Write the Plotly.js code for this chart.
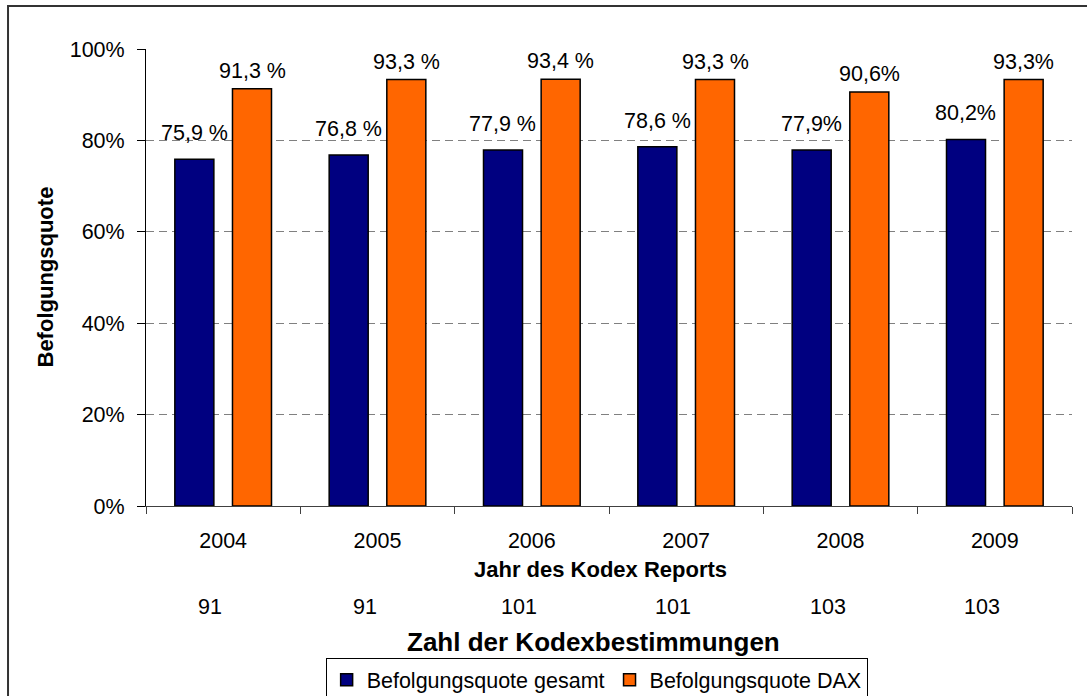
<!DOCTYPE html>
<html>
<head>
<meta charset="utf-8">
<script src="https://cdn.plot.ly/plotly-3.0.1.min.js"></script>
<style>html,body{margin:0;padding:0;background:#fff;}#chart{width:1087px;height:696px;}</style>
</head>
<body>
<div id="chart"></div>
<script>
const years = ['2004', '2005', '2006', '2007', '2008', '2009'];
const quoteGesamt = [0.759, 0.768, 0.779, 0.786, 0.779, 0.802];
const quoteDax = [0.913, 0.933, 0.934, 0.933, 0.906, 0.933];
const labelsGesamt = ['75,9 %', '76,8 %', '77,9 %', '78,6 %', '77,9%', '80,2%'];
const labelsDax = ['91,3 %', '93,3 %', '93,4 %', '93,3 %', '90,6%', '93,3%'];
const kodexZahl = ['91', '91', '101', '101', '103', '103'];
const yTicks = [0, 0.2, 0.4, 0.6, 0.8, 1.0];

const FONT = 'Liberation Sans, Arial, sans-serif';

const traces = [
  {
    type: 'bar', name: 'Befolgungsquote gesamt', x: years, y: quoteGesamt,
    marker: {color: '#000080', line: {color: '#000000', width: 1.5}},
    hoverinfo: 'skip'
  },
  {
    type: 'bar', name: 'Befolgungsquote DAX', x: years, y: quoteDax,
    marker: {color: '#FF6600', line: {color: '#000000', width: 1.5}},
    hoverinfo: 'skip'
  }
];

const annotations = [];
years.forEach((yr, i) => {
  annotations.push({x: i, y: quoteGesamt[i], xref: 'x', yref: 'y', text: labelsGesamt[i],
    showarrow: false, xanchor: 'center', yanchor: 'bottom', xshift: -29, yshift: 12,
    font: {family: FONT, size: 21.5, color: '#000'}});
  annotations.push({x: i, y: quoteDax[i], xref: 'x', yref: 'y', text: labelsDax[i],
    showarrow: false, xanchor: 'center', yanchor: 'bottom', xshift: 29, yshift: 4,
    font: {family: FONT, size: 21.5, color: '#000'}});
  annotations.push({x: i, y: 0, xref: 'x', yref: 'paper', text: kodexZahl[i],
    showarrow: false, xanchor: 'center', yanchor: 'middle', xshift: -13, yshift: -100.5,
    font: {family: FONT, size: 21.5, color: '#000'}});
});
annotations.push({x: 0.4905, y: 0, xref: 'paper', yref: 'paper', text: '<b>Jahr des Kodex Reports</b>',
  showarrow: false, xanchor: 'center', yanchor: 'middle', yshift: -63.5,
  font: {family: FONT, size: 22, color: '#000'}});
annotations.push({x: 0.483, y: 0, xref: 'paper', yref: 'paper', text: '<b>Zahl der Kodexbestimmungen</b>',
  showarrow: false, xanchor: 'center', yanchor: 'middle', yshift: -135.5,
  font: {family: FONT, size: 26, color: '#000'}});
annotations.push({x: 0, y: 0.5, xref: 'paper', yref: 'paper', text: '<b>Befolgungsquote</b>',
  showarrow: false, xanchor: 'center', yanchor: 'middle', xshift: -101, textangle: -90,
  font: {family: FONT, size: 22, color: '#000'}});

const layout = {
  width: 1087, height: 696,
  margin: {l: 146, r: 15, t: 49, b: 190, pad: 0, autoexpand: false},
  paper_bgcolor: '#ffffff', plot_bgcolor: '#ffffff',
  font: {family: FONT, size: 21.5, color: '#000'},
  barmode: 'group', bargap: 0.253, bargroupgap: 0.323,
  showlegend: true,
  legend: {orientation: 'h', x: 0.194, y: -0.333, xanchor: 'left', yanchor: 'top',
    bordercolor: '#000', borderwidth: 1, font: {family: FONT, size: 21.5, color: '#000'},
    bgcolor: '#fff', traceorder: 'normal', itemwidth: 30},
  xaxis: {
    type: 'category', categoryarray: years, categoryorder: 'array',
    range: [-0.5, 5.5], autorange: false,
    showline: true, linecolor: '#404040', linewidth: 1,
    ticks: 'outside', ticklen: 7, tickcolor: '#404040', tickson: 'boundaries',
    showgrid: false, zeroline: false, automargin: false, tickangle: 0,
    tickfont: {family: FONT, size: 21.5, color: '#000'}, ticklabelstandoff: 15
  },
  yaxis: {
    range: [0, 1], autorange: false, tickvals: yTicks, tickformat: '.0%',
    showline: true, linecolor: '#000', linewidth: 1,
    ticks: 'outside', ticklen: 8, tickcolor: '#000',
    showgrid: true, gridcolor: '#808080', gridwidth: 1, griddash: '8px,5px',
    zeroline: false, automargin: false,
    tickfont: {family: FONT, size: 21.5, color: '#000'}, ticklabelstandoff: 8
  },
  shapes: [
    {type: 'rect', xref: 'paper', yref: 'paper', x0: -0.149, x1: 1.2, y0: -0.6, y1: 1.094,
      line: {color: '#333', width: 2}, fillcolor: 'rgba(0,0,0,0)', layer: 'below'}
  ],
  annotations: annotations
};

Plotly.newPlot('chart', traces, layout, {staticPlot: true, displayModeBar: false});
</script>
</body>
</html>
